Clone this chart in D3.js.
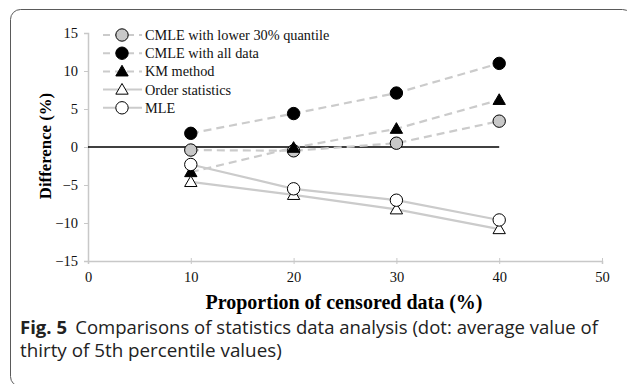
<!DOCTYPE html>
<html><head><meta charset="utf-8">
<script src="https://cdn.jsdelivr.net/npm/d3@7"></script>
<style>body{margin:0;background:#fff}svg{display:block}</style>
</head><body>
<svg id="c" width="627" height="384"></svg>
<script>
const xCats = [10, 20, 30, 40];
const cmleLower = [-0.4, -0.5, 0.5, 3.4];
const cmleAll = [1.8, 4.4, 7.1, 11.0];
const kmMethod = [-3.3, -0.1, 2.4, 6.2];
const orderStats = [-4.6, -6.3, -8.2, -10.8];
const mle = [-2.3, -5.5, -7.0, -9.6];
const xTicks = [0, 10, 20, 30, 40, 50];
const yTicks = [-15, -10, -5, 0, 5, 10, 15];
const seriesNames = ["CMLE with lower 30% quantile", "CMLE with all data", "KM method", "Order statistics", "MLE"];

const svg = d3.select("#c");
svg.append("rect").attr("x",10.5).attr("y",9.5).attr("width",622).attr("height",377)
  .attr("rx",10).attr("fill","none").attr("stroke","#5a5a5a").attr("stroke-width",1);

const x = d3.scaleLinear().domain([0,50]).range([88,602]);
const y = d3.scaleLinear().domain([-15,15]).range([261,33]);

const serif = "'Liberation Serif','Times New Roman',serif";
const axisCol = "#c8c8c8";

const ya = svg.append("g").attr("transform","translate(88,0)")
  .call(d3.axisLeft(y).tickValues(yTicks).tickSize(4).tickPadding(6).tickFormat(d3.format("d")));
ya.attr("font-family",serif).attr("font-size",14.5);
ya.select(".domain").attr("stroke",axisCol).attr("stroke-width",1.5);
ya.selectAll(".tick line").attr("stroke",axisCol);
ya.selectAll("text").attr("fill","#111");

const xa = svg.append("g").attr("transform","translate(0,261)")
  .call(d3.axisBottom(x).tickValues(xTicks).tickSize(3).tickPadding(8).tickFormat(d3.format("d")));
xa.attr("font-family",serif).attr("font-size",14.5);
xa.select(".domain").attr("stroke",axisCol).attr("stroke-width",1.5);
xa.selectAll(".tick line").attr("stroke",axisCol).attr("y1",-3).attr("y2",3);
xa.selectAll("text").attr("fill","#111");

svg.append("line").attr("x1",x(0)).attr("x2",x(40)).attr("y1",y(0)).attr("y2",y(0))
  .attr("stroke","#000").attr("stroke-width",1.5);

const series = [
  {name:seriesNames[0], vals:cmleLower, dash:"8,5", marker:"circle", fill:"#c8c8c8"},
  {name:seriesNames[1], vals:cmleAll, dash:"8,5", marker:"circle", fill:"#000"},
  {name:seriesNames[2], vals:kmMethod, dash:"8,5", marker:"triangle", fill:"#000"},
  {name:seriesNames[3], vals:orderStats, dash:null, marker:"triangle", fill:"#fff"},
  {name:seriesNames[4], vals:mle, dash:null, marker:"circle", fill:"#fff"}
];

const line = d3.line().x((d,i)=>x(xCats[i])).y(d=>y(d));
series.forEach(s=>{
  svg.append("path").attr("d",line(s.vals)).attr("fill","none")
    .attr("stroke","#cbcbcb").attr("stroke-width",2.2)
    .attr("stroke-dasharray",s.dash);
});

const triSym = d3.symbol().type(d3.symbolTriangle).size(66);
function drawMarker(g, s, cx, cy){
  if(s.marker==="circle"){
    g.append("circle").attr("cx",cx).attr("cy",cy).attr("r",6.2)
      .attr("fill",s.fill).attr("stroke","#000").attr("stroke-width",1);
  } else {
    g.append("path").attr("d",triSym()).attr("transform",`translate(${cx},${cy+1})`)
      .attr("fill",s.fill).attr("stroke","#000").attr("stroke-width",1);
  }
}
series.forEach(s=>{
  const g = svg.append("g");
  s.vals.forEach((v,i)=>drawMarker(g,s,x(xCats[i]),y(v)));
});

const legY0 = 35, legDy = 18.2;
series.forEach((s,i)=>{
  const ly = legY0 + i*legDy;
  const g = svg.append("g");
  g.append("line").attr("x1",103).attr("x2",142).attr("y1",ly).attr("y2",ly)
    .attr("stroke","#cbcbcb").attr("stroke-width",2).attr("stroke-dasharray",s.dash?"7,5":null);
  drawMarker(g,s,122,ly);
  g.append("text").attr("x",145).attr("y",ly+5).attr("font-family",serif)
    .attr("font-size",14.3).attr("fill","#111").text(s.name);
});

svg.append("text").attr("transform",`translate(51,146) rotate(-90)`)
  .attr("text-anchor","middle").attr("font-family",serif).attr("font-weight","bold")
  .attr("font-size",16.8).attr("fill","#000").text("Difference (%)");
svg.append("text").attr("x",344).attr("y",309).attr("text-anchor","middle")
  .attr("font-family",serif).attr("font-weight","bold").attr("font-size",20)
  .attr("fill","#000").text("Proportion of censored data (%)");

const cap = "'Open Sans','Noto Sans',sans-serif";
const t1 = svg.append("text").attr("x",20).attr("y",334).attr("font-family",cap)
  .attr("font-size",18).attr("fill","#222");
t1.append("tspan").attr("font-weight","bold").text("Fig. 5");
t1.append("tspan").attr("dx",8).text("Comparisons of statistics data analysis (dot: average value of");
const w1 = t1.node().getComputedTextLength();
const k = 578 / w1;
t1.attr("textLength",578).attr("lengthAdjust","spacingAndGlyphs");
svg.append("text").attr("x",20).attr("y",357).attr("font-family",cap)
  .attr("font-size",18).attr("fill","#222").text("thirty of 5th percentile values)")
  .each(function(){ const w=this.getComputedTextLength(); d3.select(this).attr("textLength",w*k).attr("lengthAdjust","spacingAndGlyphs"); });
</script>
</body></html>
